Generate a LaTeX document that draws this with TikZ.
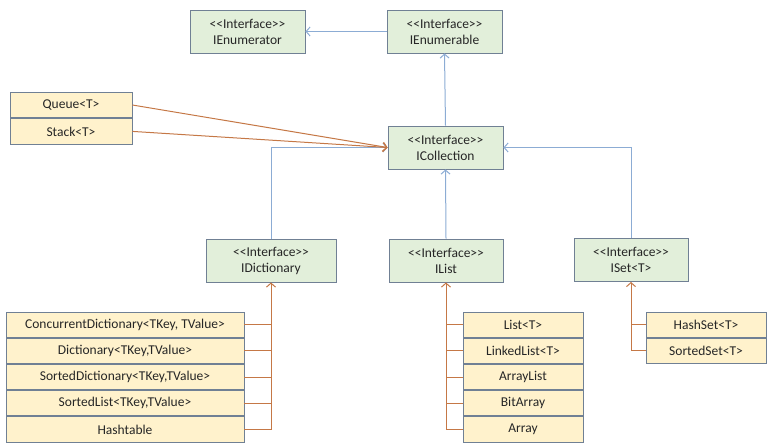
\documentclass[tikz,border=0pt]{standalone}
\usepackage{fontspec}
\setmainfont{Carlito}
\usetikzlibrary{positioning,arrows.meta}

\definecolor{ifacefill}{RGB}{226,239,218}
\definecolor{classfill}{RGB}{255,242,204}
\definecolor{boxline}{RGB}{112,128,148}
\definecolor{inhblue}{RGB}{140,172,212}
\definecolor{implbrown}{RGB}{197,120,70}
\definecolor{txtgray}{RGB}{38,38,38}

\newcommand{\stereotype}{<\kern0pt<Interface>\kern0pt>}

\tikzset{
  iface/.style={rectangle,draw=boxline,fill=ifacefill,align=center,minimum width=115pt,minimum height=43pt,inner sep=0pt,line width=0.9pt,text=txtgray,font=\fontsize{13.5}{16}\selectfont},
  cls/.style={rectangle,draw=boxline,fill=classfill,minimum height=25.3pt,inner sep=0pt,line width=0.9pt,text=txtgray,font=\fontsize{13.5}{16}\selectfont},
  inh/.style={draw=inhblue,line width=1pt,-{Straight Barb[length=4pt,width=9pt]}},
  impl/.style={draw=implbrown,line width=1pt,-{Straight Barb[length=4pt,width=9pt]}},
  stub/.style={draw=implbrown,line width=1pt}
}

\begin{document}
\begin{tikzpicture}[x=1pt,y=-1pt]
\useasboundingbox (0,0) rectangle (773,445);
% Interfaces
\node[iface] (enumerator) at (247.5,31.5) {\stereotype\\IEnumerator};
\node[iface] (enumerable) at (444.5,31.5) {\stereotype\\IEnumerable};
\node[iface] (icollection) at (445.5,147.5) {\stereotype\\ICollection};
\node[iface,minimum width=130pt] (idictionary) at (271,260.5) {\stereotype\\IDictionary};
\node[iface,minimum width=114pt] (ilist) at (446,260.5) {\stereotype\\IList};
\node[iface,minimum width=114pt] (iset) at (631,260) {\stereotype\\ISet<T>};
% Queue and Stack
\node[cls,minimum width=122pt,minimum height=25.5pt] (queue) at (71,105) {Queue<T>};
\node[cls,minimum width=122pt,minimum height=25.5pt,below=0pt of queue] (stack) {Stack<T>};
% Dictionaries
\node[cls,minimum width=238pt] (concdict) at (125,324.6) {ConcurrentDictionary<TKey, TValue>};
\node[cls,minimum width=238pt,below=0pt of concdict] (dict) {Dictionary<TKey,TValue>};
\node[cls,minimum width=238pt,below=0pt of dict] (sorteddict) {SortedDictionary<TKey,TValue>};
\node[cls,minimum width=238pt,below=0pt of sorteddict] (sortedlist) {SortedList<TKey,TValue>};
\node[cls,minimum width=238pt,below=0pt of sortedlist] (hashtable) {Hashtable};
% Lists
\node[cls,minimum width=120pt] (listT) at (523,324.6) {List<T>};
\node[cls,minimum width=120pt,below=0pt of listT] (linkedlist) {LinkedList<T>};
\node[cls,minimum width=120pt,below=0pt of linkedlist] (arraylist) {ArrayList};
\node[cls,minimum width=120pt,below=0pt of arraylist] (bitarray) {BitArray};
\node[cls,minimum width=120pt,below=0pt of bitarray] (array) {Array};
% Sets
\node[cls,minimum width=120pt] (hashset) at (706,324.6) {HashSet<T>};
\node[cls,minimum width=120pt,below=0pt of hashset] (sortedset) {SortedSet<T>};

% Arrows
\draw[inh] (enumerable.west) -- (enumerator.east);
\draw[inh] (icollection.north) -- (enumerable.south);
\draw[inh] (idictionary.north) |- (icollection.west);
\draw[inh] (ilist.north) -- (icollection.south);
\draw[inh] (iset.north) |- (icollection.east);
\draw[impl] (queue.east) -- (icollection.west);
\draw[impl] (stack.east) -- (icollection.west);
% Dictionary branch
\draw[impl] (hashtable.east) -| (idictionary.south);
\foreach \n in {concdict,dict,sorteddict,sortedlist}
  \draw[stub] (\n.east) -- (\n.east -| idictionary.south);
% List branch
\draw[impl] (array.west) -| (ilist.south);
\foreach \n in {listT,linkedlist,arraylist,bitarray}
  \draw[stub] (\n.west) -- (\n.west -| ilist.south);
% Set branch
\draw[impl] (sortedset.west) -| (iset.south);
\draw[stub] (hashset.west) -- (hashset.west -| iset.south);
\end{tikzpicture}
\end{document}
